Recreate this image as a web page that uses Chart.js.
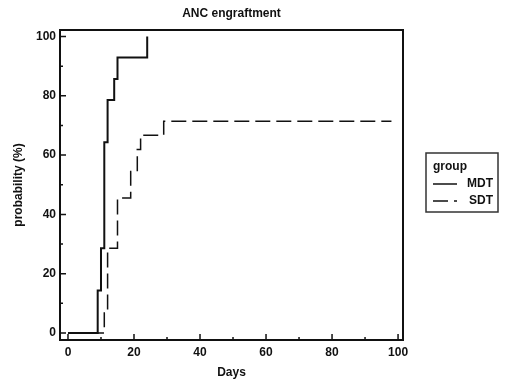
<!DOCTYPE html>
<html lang="en">
<head>
  <meta charset="UTF-8">
  <title>ANC engraftment</title>
  <script src="https://cdn.jsdelivr.net/npm/chart.js@4.4.0/dist/chart.umd.min.js"></script>
  <style>
    body { margin: 0; background: #fff; }
  </style>
</head>
<body>
  <canvas id="km" width="520" height="386"></canvas>

  <script>
    // Kaplan-Meier steps (day, cumulative %)
    const mdtDays = [0, 9, 10, 11, 12, 14, 15, 24];
    const mdtProb = [0, 14.3, 28.6, 64.3, 78.6, 85.7, 92.9, 100];

    const sdtDays = [0, 11, 12, 15, 19, 21, 22, 29, 98];
    const sdtProb = [0, 7.1, 28.6, 45.5, 54.5, 61.9, 66.7, 71.4, 71.4];

    const xMajor = [0, 20, 40, 60, 80, 100];
    const xMinor = [10, 30, 50, 70, 90];
    const yMajor = [0, 20, 40, 60, 80, 100];
    const yMinor = [10, 30, 50, 70, 90];

    const legendTitle = 'group';
    const font = 'Liberation Sans, Arial, sans-serif';

    function pts(xs, ys) {
      return xs.map((d, i) => ({ x: d, y: ys[i] }));
    }

    // frame + inward ticks + boxed legend
    const frameTicks = {
      id: 'frameTicks',
      afterDraw(chart) {
        const c = chart.ctx, a = chart.chartArea;
        const xs = chart.scales.x, ys = chart.scales.y;
        c.save();
        c.strokeStyle = '#111';
        c.lineWidth = 1.5;
        c.beginPath();
        xMajor.forEach(v => { const p = xs.getPixelForValue(v); c.moveTo(p, a.bottom); c.lineTo(p, a.bottom - 6); });
        xMinor.forEach(v => { const p = xs.getPixelForValue(v); c.moveTo(p, a.bottom); c.lineTo(p, a.bottom - 3); });
        yMajor.forEach(v => { const p = ys.getPixelForValue(v); c.moveTo(a.left, p); c.lineTo(a.left + 6, p); });
        yMinor.forEach(v => { const p = ys.getPixelForValue(v); c.moveTo(a.left, p); c.lineTo(a.left + 3, p); });
        c.stroke();
        c.lineWidth = 2;
        c.strokeRect(a.left, a.top, a.right - a.left, a.bottom - a.top);

        // legend
        const lx = 426, ly = 153, lw = 72, lh = 59;
        c.lineWidth = 1.5;
        c.strokeStyle = '#333';
        c.strokeRect(lx, ly, lw, lh);
        c.fillStyle = '#111';
        c.font = 'bold 12px ' + font;
        c.textBaseline = 'middle';
        c.textAlign = 'left';
        c.fillText(legendTitle, lx + 7, ly + 14);
        chart.data.datasets.forEach((ds, i) => {
          const yy = ly + 31 + i * 17;
          c.beginPath();
          c.strokeStyle = '#111';
          c.lineWidth = 1.5;
          c.setLineDash(ds.borderDash || []);
          c.moveTo(lx + 7, yy);
          c.lineTo(lx + 31, yy);
          c.stroke();
          c.setLineDash([]);
          c.textAlign = 'right';
          c.fillText(ds.label, lx + 67, yy);
        });
        c.restore();
      }
    };

    const tickFont = { family: font, size: 12, weight: 'bold' };

    new Chart(document.getElementById('km'), {
      type: 'scatter',
      data: {
        datasets: [{
          label: 'MDT',
          data: pts(mdtDays, mdtProb),
          showLine: true,
          stepped: 'before',
          borderColor: '#111',
          borderWidth: 2,
          pointRadius: 0
        }, {
          label: 'SDT',
          data: pts(sdtDays, sdtProb),
          showLine: true,
          stepped: 'before',
          borderColor: '#111',
          borderWidth: 1.5,
          borderDash: [15, 6],
          pointRadius: 0
        }]
      },
      options: {
        responsive: false,
        animation: false,
        layout: { padding: { left: 0, right: 117, top: 0, bottom: 0 } },
        plugins: {
          legend: { display: false },
          tooltip: { enabled: false },
          title: {
            display: true,
            text: 'ANC engraftment',
            fullSize: false,
            color: '#111',
            font: { family: font, size: 12, weight: 'bold' },
            padding: { top: 6, bottom: 9.6 }
          }
        },
        scales: {
          x: {
            type: 'linear',
            min: -2.42,
            max: 101.5,
            grid: { display: false, drawTicks: false },
            border: { display: false },
            afterBuildTicks: s => { s.ticks = xMajor.map(v => ({ value: v })); },
            afterFit: s => { s.height = 46; },
            ticks: { color: '#111', font: tickFont, padding: 5, maxRotation: 0 },
            title: {
              display: true, text: 'Days', color: '#111',
              font: { family: font, size: 12, weight: 'bold' },
              padding: { top: 0, bottom: 6.5 }
            }
          },
          y: {
            type: 'linear',
            min: -2.36,
            max: 102.2,
            grid: { display: false, drawTicks: false },
            border: { display: false },
            afterBuildTicks: s => { s.ticks = yMajor.map(v => ({ value: v })); },
            afterFit: s => { s.width = 60; },
            ticks: { color: '#111', font: tickFont, padding: 4 },
            title: {
              display: true, text: 'probability (%)', color: '#111',
              font: { family: font, size: 12, weight: 'bold' },
              padding: { top: 11.4, bottom: 0 }
            }
          }
        }
      },
      plugins: [frameTicks]
    });
  </script>
</body>
</html>
